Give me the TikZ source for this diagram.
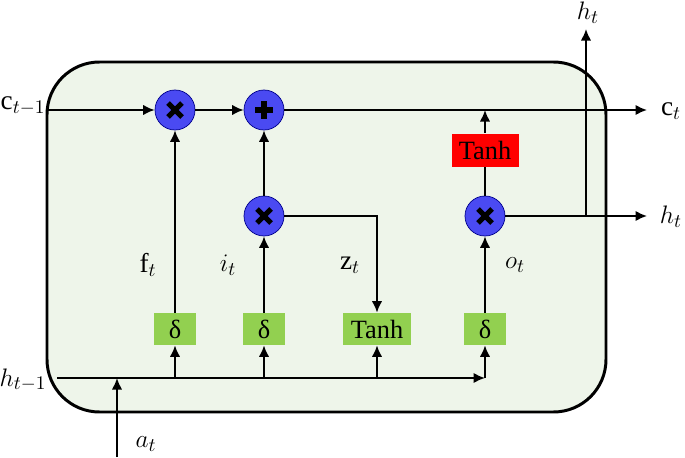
\documentclass[tikz,border=0pt]{standalone}
\usepackage{amsmath}
\usepackage{fontspec}
\setmainfont{Liberation Serif}
\usetikzlibrary{arrows.meta}

\definecolor{fondo}{HTML}{EEF5EA}
\definecolor{azulop}{HTML}{4A4AF2}
\definecolor{verdeact}{HTML}{92D050}
\definecolor{rojoact}{HTML}{FF0000}

\tikzset{
  puerta/.style={circle, draw=blue!55!black, line width=0.4pt, fill=azulop, minimum size=0.8cm, inner sep=0pt},
  producto/.style={puerta, path picture={
      \draw[black, line width=3pt] ([shift={(-0.14,-0.14)}]path picture bounding box.center) -- ([shift={(0.14,0.14)}]path picture bounding box.center)
        ([shift={(-0.14,0.14)}]path picture bounding box.center) -- ([shift={(0.14,-0.14)}]path picture bounding box.center);}},
  suma/.style={puerta, path picture={
      \draw[black, line width=3pt] ([shift={(-0.18,0)}]path picture bounding box.center) -- ([shift={(0.18,0)}]path picture bounding box.center)
        ([shift={(0,0.18)}]path picture bounding box.center) -- ([shift={(0,-0.18)}]path picture bounding box.center);}},
  activ/.style={rectangle, fill=verdeact, minimum height=0.64cm, minimum width=0.84cm, inner sep=2pt, font=\fontsize{15}{17}\selectfont},
  etiqueta/.style={font=\fontsize{15.5}{18}\selectfont},
  flecha/.style={-{Latex[length=2.3mm,width=2.1mm]}, line width=1.1pt},
  linea/.style={line width=1.1pt},
}

\begin{document}
\begin{tikzpicture}
  \useasboundingbox (0,0) rectangle (13.7,9.14);

  % Celda
  \draw[line width=1.7pt, fill=fondo, rounded corners=1.05cm] (0.94,0.9) rectangle (12.12,7.9);

  % Puertas
  \node[producto] (fgate) at (3.5,6.94) {};
  \node[suma] (add) at (5.28,6.94) {};
  \node[producto] (igate) at (5.28,4.82) {};
  \node[producto] (ogate) at (9.7,4.82) {};

  % Activaciones
  \node[activ] (sigf) at (3.5,2.56) {δ};
  \node[activ] (sigi) at (5.28,2.56) {δ};
  \node[activ, minimum width=1.36cm] (tanhz) at (7.54,2.56) {Tanh};
  \node[activ] (sigo) at (9.7,2.56) {δ};
  \node[activ, fill=rojoact, minimum width=1.34cm, minimum height=0.66cm] (tanhc) at (9.7,6.14) {Tanh};

  % Puntos libres
  \coordinate (cin) at (0.94,6.94);
  \coordinate (cout) at (12.94,6.94);
  \coordinate (hout) at (12.94,4.82);
  \coordinate (hsplit) at (11.72,4.82);
  \coordinate (htop) at (11.72,8.56);
  \coordinate (hin) at (1.14,1.58);
  \coordinate (hcorner) at (9.7,1.58);
  \coordinate (ain) at (2.34,0);

  % Estado de la celda
  \draw[flecha] (cin) -- (fgate);
  \draw[flecha] (fgate) -- (add);
  \draw[flecha] (add) -- (cout);
  \draw[flecha] (tanhc) -- (tanhc |- add);

  % Salida
  \draw[linea] (ogate) -- (tanhc);
  \draw[flecha] (ogate) -- (hout);
  \draw[flecha] (hsplit) -- (htop);

  % Compuertas
  \draw[flecha] (sigf) -- (fgate);
  \draw[flecha] (sigi) -- (igate);
  \draw[flecha] (igate) -- (add);
  \draw[flecha] (igate.east) -| (tanhz);
  \draw[flecha] (sigo) -- (ogate);

  % Entrada
  \draw[flecha] (hin) -- (hcorner);
  \draw[flecha] (hcorner) -- (sigo);
  \draw[flecha] (sigf |- hin) -- (sigf);
  \draw[flecha] (sigi |- hin) -- (sigi);
  \draw[flecha] (tanhz |- hin) -- (tanhz);
  \draw[flecha] (ain) -- (ain |- hin);

  % Etiquetas
  \node[etiqueta] at (0.46,7.02) {$\mathrm{c}_{t-1}$};
  \node[etiqueta] at (0.46,1.54) {$h_{t-1}$};
  \node[etiqueta] at (13.42,6.92) {$\mathrm{c}_t$};
  \node[etiqueta] at (13.42,4.8) {$h_t$};
  \node[etiqueta, anchor=north, inner sep=0pt] at (11.76,9.1) {$h_t$};
  \node[etiqueta] at (2.92,0.26) {$a_t$};
  \node[etiqueta] at (2.96,3.84) {$\mathrm{f}_t$};
  \node[etiqueta] at (4.56,3.84) {$i_t$};
  \node[etiqueta] at (7.0,3.84) {$\mathrm{z}_t$};
  \node[etiqueta] at (10.3,3.84) {$o_t$};
\end{tikzpicture}
\end{document}
